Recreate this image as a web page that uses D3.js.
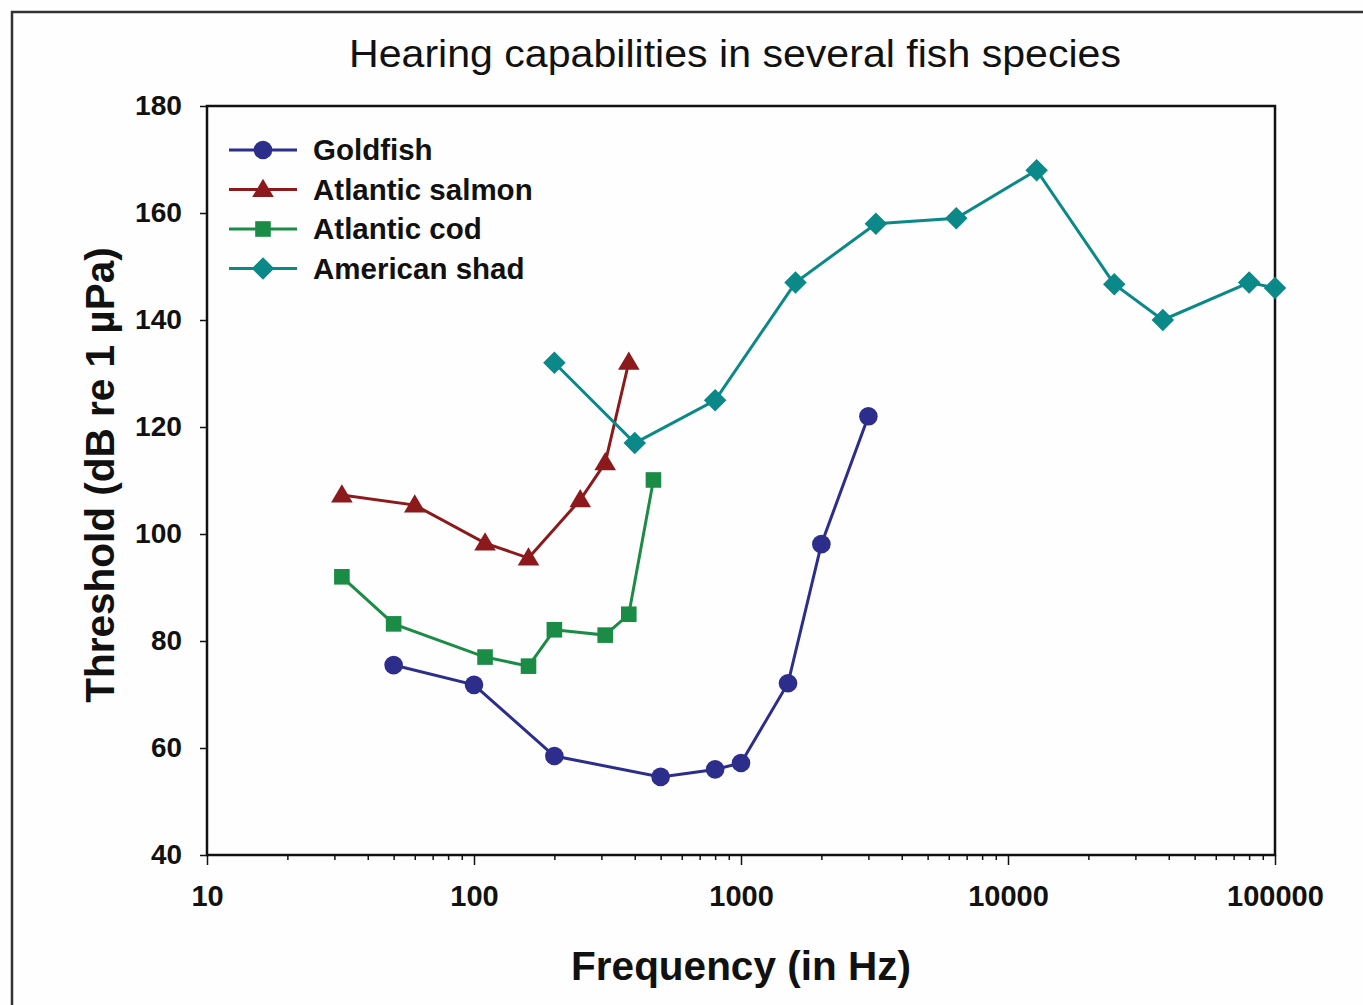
<!DOCTYPE html>
<html>
<head>
<meta charset="utf-8">
<script src="https://cdn.jsdelivr.net/npm/d3@7"></script>
<style>
  html, body { margin: 0; padding: 0; background: #fefefe; }
  svg { display: block; font-family: "Liberation Sans", Arial, sans-serif; }
</style>
</head>
<body>
<svg id="chart" width="1363" height="1005"></svg>
<script>
// ── data ───────────────────────────────────────────────────────
const TITLE = "Hearing capabilities in several fish species";
const xTicks = [10, 100, 1000, 10000, 100000];
const yTicks = [40, 60, 80, 100, 120, 140, 160, 180];

const goldfishHz = [50, 100, 200, 500, 800, 1000, 1500, 2000, 3000];
const goldfishDb = [75.5, 71.8, 58.5, 54.6, 56, 57.2, 72.1, 98.1, 122];

const salmonHz = [32, 60, 110, 160, 250, 310, 380];
const salmonDb = [107.3, 105.4, 98.3, 95.5, 106.4, 113.3, 132.1];

const codHz = [32, 50, 110, 160, 200, 310, 380, 470];
const codDb = [92, 83.2, 77, 75.3, 82.1, 81.1, 85, 110.1];

const shadHz = [200, 400, 800, 1600, 3200, 6400, 12800, 25000, 38000, 80000, 100000];
const shadDb = [132, 117, 125, 147, 158, 159, 168, 146.7, 140, 147, 146];

const series = [
  { name: "Goldfish",        hz: goldfishHz, db: goldfishDb, color: "#2d2d8c", shape: "circle" },
  { name: "Atlantic salmon", hz: salmonHz,   db: salmonDb,   color: "#8c1a1c", shape: "triangle" },
  { name: "Atlantic cod",    hz: codHz,      db: codDb,      color: "#1b8c45", shape: "square" },
  { name: "American shad",   hz: shadHz,     db: shadDb,     color: "#0b8888", shape: "diamond" }
];

// ── layout ─────────────────────────────────────────────────────
const svg = d3.select("#chart");
const plot = { left: 207, top: 106, right: 1275, bottom: 855 };

const x = d3.scaleLog().domain([10, 100000]).range([plot.left, plot.right]);
const y = d3.scaleLinear().domain([40, 180]).range([plot.bottom, plot.top]);

// outer frame (top + left edges visible in the reference)
svg.append("path")
  .attr("d", `M12,1005 L12,12 L1363,12`)
  .attr("fill", "none").attr("stroke", "#333").attr("stroke-width", 2.5);

// title
svg.append("text")
  .attr("x", 735).attr("y", 67)
  .attr("text-anchor", "middle")
  .attr("textLength", 772).attr("lengthAdjust", "spacingAndGlyphs")
  .style("font-size", "38px").attr("fill", "#111")
  .text(TITLE);

// plot frame
svg.append("rect")
  .attr("x", plot.left).attr("y", plot.top)
  .attr("width", plot.right - plot.left).attr("height", plot.bottom - plot.top)
  .attr("fill", "none").attr("stroke", "#111").attr("stroke-width", 2.5);

// y axis
const yAxis = d3.axisLeft(y).tickValues(yTicks).tickSize(7).tickPadding(8).tickFormat(d3.format("d"));
const gy = svg.append("g").attr("transform", `translate(${plot.left},0)`).call(yAxis);
gy.select(".domain").remove();
gy.selectAll("line").attr("stroke", "#111").attr("stroke-width", 1.5);
gy.selectAll("text").attr("fill", "#111")
  .style("font-size", "28px").style("font-weight", "bold")
  .attr("textLength", 47).attr("lengthAdjust", "spacingAndGlyphs")
  .attr("dx", -10);
gy.selectAll(".tick").filter(d => d < 100).select("text")
  .attr("textLength", 31);

// x axis: major + minor ticks
const minor = [];
for (let d = 10; d < 100000; d *= 10) for (let k = 2; k <= 9; k++) minor.push(d * k);
const gxm = svg.append("g").attr("transform", `translate(0,${plot.bottom})`)
  .call(d3.axisBottom(x).tickValues(minor).tickSize(5).tickFormat(""));
gxm.select(".domain").remove();
gxm.selectAll("line").attr("stroke", "#111").attr("stroke-width", 1.5);

const gx = svg.append("g").attr("transform", `translate(0,${plot.bottom})`)
  .call(d3.axisBottom(x).tickValues(xTicks).tickSize(10).tickPadding(20).tickFormat(d3.format("d")));
gx.select(".domain").remove();
gx.selectAll("line").attr("stroke", "#111").attr("stroke-width", 1.5);
gx.selectAll("text").attr("fill", "#111")
  .style("font-size", "29px").style("font-weight", "bold");

// axis titles
svg.append("text")
  .attr("x", 741).attr("y", 980)
  .attr("text-anchor", "middle")
  .style("font-size", "40.5px").style("font-weight", "bold").attr("fill", "#111")
  .text("Frequency (in Hz)");

svg.append("text")
  .attr("transform", "translate(114,475) rotate(-90)")
  .attr("text-anchor", "middle")
  .style("font-size", "40.5px").style("font-weight", "bold").attr("fill", "#111")
  .text("Threshold (dB re 1 µPa)");

// markers
function marker(g, shape, color, size) {
  const s = size;
  if (shape === "circle") g.append("circle").attr("r", s * 0.62).attr("fill", color);
  else if (shape === "triangle") g.append("path").attr("d", `M0,${-s * 0.72}L${s * 0.72},${s * 0.5}L${-s * 0.72},${s * 0.5}Z`).attr("fill", color);
  else if (shape === "square") g.append("rect").attr("x", -s * 0.52).attr("y", -s * 0.52).attr("width", s * 1.04).attr("height", s * 1.04).attr("fill", color);
  else g.append("path").attr("d", `M0,${-s * 0.75}L${s * 0.75},0L0,${s * 0.75}L${-s * 0.75},0Z`).attr("fill", color);
}

const line = d3.line().x(d => x(d[0])).y(d => y(d[1]));

series.forEach(s => {
  const pts = s.hz.map((h, i) => [h, s.db[i]]);
  svg.append("path").datum(pts)
    .attr("d", line)
    .attr("fill", "none").attr("stroke", s.color).attr("stroke-width", 3);
  svg.append("g").selectAll("g").data(pts).join("g")
    .attr("transform", d => `translate(${x(d[0])},${y(d[1])})`)
    .each(function () { marker(d3.select(this), s.shape, s.color, 15); });
});

// legend
const legend = svg.append("g").attr("transform", "translate(229,150)");
series.forEach((s, i) => {
  const g = legend.append("g").attr("transform", `translate(0,${i * 39.5})`);
  g.append("line").attr("x1", 0).attr("x2", 68).attr("y1", 0).attr("y2", 0)
    .attr("stroke", s.color).attr("stroke-width", 3);
  marker(g.append("g").attr("transform", "translate(34,0)"), s.shape, s.color, 15);
  g.append("text").attr("x", 84).attr("y", 10)
    .style("font-size", "29.5px").style("font-weight", "bold").attr("fill", "#111")
    .text(s.name);
});
</script>
</body>
</html>
